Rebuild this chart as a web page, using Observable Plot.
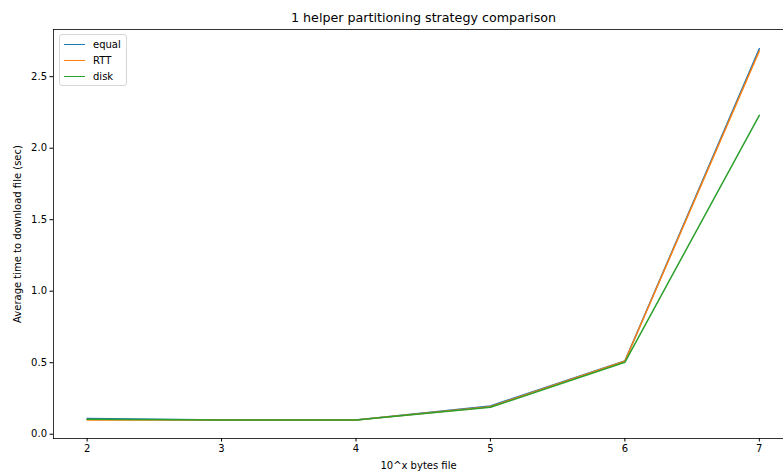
<!DOCTYPE html>
<html>
<head>
<meta charset="utf-8">
<script src="https://cdn.jsdelivr.net/npm/d3@7"></script>
<script src="https://cdn.jsdelivr.net/npm/@observablehq/plot@0.6"></script>
<style>
  html, body { margin: 0; padding: 0; background: #fff; }
  #wrap { position: relative; width: 783px; height: 472px; overflow: hidden; font-family: "DejaVu Sans", sans-serif; }
  #legend { position: absolute; left: 59px; top: 34px; width: 66px; padding: 1px 0 1px 0; border: 1px solid #d6d6d6; border-radius: 3px; background: rgba(255,255,255,0.8); font-size: 10px; color: #000; }
  #legend .row { display: flex; align-items: center; height: 16px; }
  #legend .sw { width: 21px; height: 0; border-top: 1.5px solid; margin-left: 4px; margin-right: 8px; }
</style>
</head>
<body>
<div id="wrap"><div id="legend"></div></div>
<script>
const exponents = [2, 3, 4, 5, 6, 7];
const seriesNames = ["equal", "RTT", "disk"];
const equalTimes = [0.110, 0.100, 0.100, 0.198, 0.512, 2.695];
const rttTimes   = [0.100, 0.100, 0.100, 0.192, 0.510, 2.680];
const diskTimes  = [0.105, 0.100, 0.100, 0.188, 0.503, 2.230];
const colors = ["#1f77b4", "#ff7f0e", "#2ca02c"];
const xTicks = [2, 3, 4, 5, 6, 7];
const yTicks = [0, 0.5, 1.0, 1.5, 2.0, 2.5];
const title = "1 helper partitioning strategy comparison";
const xLabel = "10^x bytes file";
const yLabel = "Average time to download file (sec)";

const valuesBySeries = [equalTimes, rttTimes, diskTimes];
const data = seriesNames.flatMap((s, i) => exponents.map((x, j) => ({series: s, x, y: valuesBySeries[i][j]})));

const chart = Plot.plot({
  width: 783,
  height: 472,
  marginLeft: 53,
  marginRight: 0,
  marginTop: 29,
  marginBottom: 34,
  style: {fontFamily: "DejaVu Sans, sans-serif", fontSize: "10px", color: "#000", background: "#fff"},
  x: {domain: [1.75, 7.18]},
  y: {domain: [-0.03, 2.83]},
  color: {domain: seriesNames, range: colors},
  marks: [
    Plot.axisX({ticks: xTicks, tickFormat: d => String(d), tickSize: 3.5, tickPadding: 3, stroke: "#000", label: xLabel, labelAnchor: "center", labelArrow: "none", labelOffset: 30, fontSize: 10}),
    Plot.axisY({ticks: yTicks, tickFormat: d3.format(".1f"), tickSize: 3.5, tickPadding: 3, stroke: "#000", label: yLabel, labelAnchor: "center", labelArrow: "none", labelOffset: 40, fontSize: 10}),
    Plot.lineY(data, {x: "x", y: "y", stroke: "series", strokeWidth: 1.5, z: "series"}),
    Plot.frame({anchor: "left", stroke: "#000", strokeWidth: 0.8}),
    Plot.frame({anchor: "top", stroke: "#000", strokeWidth: 0.8}),
    Plot.frame({anchor: "bottom", stroke: "#000", strokeWidth: 0.8}),
    Plot.text([title], {frameAnchor: "top", text: d => d, dy: -8, dx: 5, lineAnchor: "bottom", fontSize: 12.7, fill: "#000"})
  ]
});
const wrap = document.getElementById("wrap");
wrap.insertBefore(chart, wrap.firstChild);

const legend = document.getElementById("legend");
seriesNames.forEach((s, i) => {
  const row = document.createElement("div");
  row.className = "row";
  const sw = document.createElement("span");
  sw.className = "sw";
  sw.style.borderTopColor = colors[i];
  const lab = document.createElement("span");
  lab.textContent = s;
  row.appendChild(sw);
  row.appendChild(lab);
  legend.appendChild(row);
});
</script>
</body>
</html>
